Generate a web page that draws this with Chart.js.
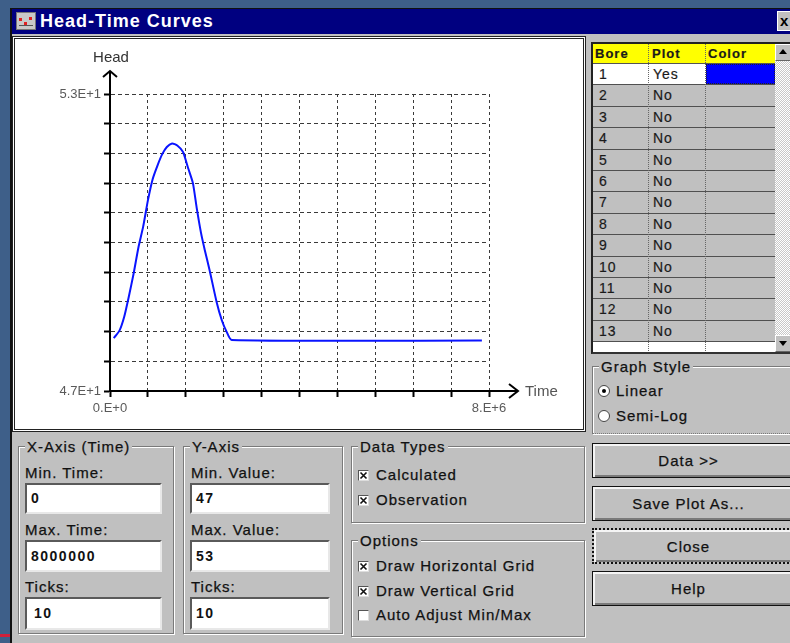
<!DOCTYPE html>
<html>
<head>
<meta charset="utf-8">
<title>Head-Time Curves</title>
<script src="https://cdn.jsdelivr.net/npm/chart.js@4/dist/chart.umd.min.js"></script>
<style>
  html, body { margin:0; padding:0; width:790px; height:643px; overflow:hidden; background:#3e5f89;
               font-family:"Liberation Sans", Arial, sans-serif; }
  .a { position:absolute; box-sizing:border-box; }
  .lbl { position:absolute; font-size:15px; letter-spacing:1px; color:#111; white-space:nowrap; line-height:18px; -webkit-text-stroke:0.25px #111; }
  .grp { position:absolute; box-sizing:border-box; border:1px solid #7a7a7a; box-shadow: inset 1px 1px 0 #fff, 1px 1px 0 #fff; }
  .grp > span { position:absolute; top:-9px; left:6px; background:#c0c0c0; padding:0 2px; font-size:15px; letter-spacing:1px; color:#111; line-height:18px; white-space:nowrap; -webkit-text-stroke:0.25px #111; }
  .inp { position:absolute; box-sizing:border-box; background:#fff; border-style:solid; border-width:2px;
         border-color:#5a5a5a #e8e8e8 #e8e8e8 #5a5a5a; font-weight:bold; font-size:14px; letter-spacing:1.5px;
         padding-left:4px; color:#111; }
  .btn { position:absolute; box-sizing:border-box; background:#c0c0c0; border:1px solid #111;
         box-shadow: inset 2px 2px 0 #f4f4f4, inset -2px -2px 0 #7a7a7a; text-align:center;
         font-size:15px; letter-spacing:1px; color:#111; -webkit-text-stroke:0.25px #111; }
  .chk { position:absolute; width:11px; height:11px; box-sizing:border-box; background:#fff;
         border-style:solid; border-width:1px; border-color:#555 #ddd #ddd #555; }
  .rad { position:absolute; width:12px; height:12px; box-sizing:border-box; background:#fff; border-radius:50%;
         border:1px solid #444; }
  .cell { position:absolute; font-size:14px; letter-spacing:1px; color:#1a1a1a; line-height:21px; white-space:nowrap; -webkit-text-stroke:0.2px #1a1a1a; }
</style>
</head>
<body>
<!-- dialog frame -->
<div class="a" style="left:10px;top:8px;width:790px;height:640px;background:#c0c0c0;border-left:2px solid #111;border-top:1px solid #111;"></div>
<div class="a" style="left:0;top:634px;width:10px;height:3px;background:#d0203a;"></div>

<!-- title bar -->
<div class="a" style="left:12px;top:9px;width:790px;height:25px;background:#000080;"></div>
<div class="a" style="left:16px;top:12px;width:20px;height:18px;background:#c8c8c8;border:1px solid #777;">
  <div class="a" style="left:2px;top:5px;width:3px;height:3px;background:#e02020;"></div>
  <div class="a" style="left:7px;top:9px;width:3px;height:3px;background:#e02020;"></div>
  <div class="a" style="left:12px;top:4px;width:3px;height:3px;background:#e02020;"></div>
  <div class="a" style="left:2px;top:12px;width:14px;height:1px;background:#555;"></div>
</div>
<div class="a" style="left:40px;top:9px;height:25px;line-height:25px;color:#fff;font-weight:bold;font-size:18px;letter-spacing:1px;white-space:nowrap;">Head-Time Curves</div>
<div class="a" style="left:777px;top:11px;width:16px;height:20px;background:#c0c0c0;border:1px solid #fff;border-right:none;font-weight:bold;font-size:15px;line-height:18px;padding-left:2px;color:#000;">x</div>

<!-- plot panel -->
<div class="a" style="left:12px;top:36px;width:574px;height:396px;border:3px double #222;background:#fff;">
  <canvas id="plot" width="568" height="390" style="display:block;"></canvas>
</div>

<!-- bore table -->
<div class="a" id="tbl" style="left:591px;top:42px;width:200px;height:312px;border-left:2px solid #222;border-top:2px solid #222;border-bottom:2px solid #333;background:#c0c0c0;"></div>

<!-- graph style -->
<div class="grp" style="left:592px;top:366px;width:210px;height:68px;border-bottom-style:dotted;"><span>Graph Style</span></div>
<div class="rad" style="left:598px;top:385px;"><div class="a" style="left:3px;top:3px;width:4px;height:4px;border-radius:50%;background:#000;"></div></div>
<div class="lbl" style="left:616px;top:382px;">Linear</div>
<div class="rad" style="left:598px;top:410px;"></div>
<div class="lbl" style="left:616px;top:407px;">Semi-Log</div>

<!-- x-axis settings -->
<div class="grp" style="left:18px;top:446px;width:156px;height:188px;"><span>X-Axis (Time)</span></div>
<div class="lbl" style="left:25px;top:464px;">Min. Time:</div>
<div class="inp" style="left:25px;top:483px;width:137px;height:31px;line-height:27px;">0</div>
<div class="lbl" style="left:25px;top:521px;">Max. Time:</div>
<div class="inp" style="left:25px;top:540px;width:137px;height:32px;line-height:28px;">8000000</div>
<div class="lbl" style="left:25px;top:578px;">Ticks:</div>
<div class="inp" style="left:25px;top:597px;width:137px;height:33px;line-height:29px;padding-left:7px;">10</div>

<!-- y-axis settings -->
<div class="grp" style="left:183px;top:446px;width:160px;height:188px;"><span>Y-Axis</span></div>
<div class="lbl" style="left:191px;top:464px;">Min. Value:</div>
<div class="inp" style="left:190px;top:483px;width:140px;height:31px;line-height:27px;">47</div>
<div class="lbl" style="left:191px;top:521px;">Max. Value:</div>
<div class="inp" style="left:190px;top:540px;width:140px;height:32px;line-height:28px;">53</div>
<div class="lbl" style="left:191px;top:578px;">Ticks:</div>
<div class="inp" style="left:190px;top:597px;width:140px;height:33px;line-height:29px;">10</div>

<!-- data types -->
<div class="grp" style="left:351px;top:446px;width:234px;height:77px;"><span>Data Types</span></div>
<div class="chk" style="left:358px;top:470px;"><svg width="9" height="9" style="position:absolute;left:0;top:0"><path d="M1.5 1.5L7.5 7.5M7.5 1.5L1.5 7.5" stroke="#111" stroke-width="1.6"/></svg></div>
<div class="lbl" style="left:376px;top:466px;">Calculated</div>
<div class="chk" style="left:358px;top:495px;"><svg width="9" height="9" style="position:absolute;left:0;top:0"><path d="M1.5 1.5L7.5 7.5M7.5 1.5L1.5 7.5" stroke="#111" stroke-width="1.6"/></svg></div>
<div class="lbl" style="left:376px;top:491px;">Observation</div>

<!-- options -->
<div class="grp" style="left:351px;top:540px;width:234px;height:97px;"><span>Options</span></div>
<div class="chk" style="left:358px;top:561px;"><svg width="9" height="9" style="position:absolute;left:0;top:0"><path d="M1.5 1.5L7.5 7.5M7.5 1.5L1.5 7.5" stroke="#111" stroke-width="1.6"/></svg></div>
<div class="lbl" style="left:376px;top:557px;">Draw Horizontal Grid</div>
<div class="chk" style="left:358px;top:586px;"><svg width="9" height="9" style="position:absolute;left:0;top:0"><path d="M1.5 1.5L7.5 7.5M7.5 1.5L1.5 7.5" stroke="#111" stroke-width="1.6"/></svg></div>
<div class="lbl" style="left:376px;top:582px;">Draw Vertical Grid</div>
<div class="chk" style="left:358px;top:610px;"></div>
<div class="lbl" style="left:376px;top:606px;">Auto Adjust Min/Max</div>

<!-- buttons -->
<div class="btn" style="left:592px;top:443px;width:205px;height:35px;line-height:33px;padding-right:12px;">Data &gt;&gt;</div>
<div class="btn" style="left:592px;top:486px;width:205px;height:35px;line-height:33px;padding-right:12px;">Save Plot As...</div>
<div class="btn" style="left:592px;top:528px;width:205px;height:36px;line-height:34px;padding-right:12px;border:2px dotted #111;">Close</div>
<div class="btn" style="left:592px;top:571px;width:205px;height:35px;line-height:33px;padding-right:12px;">Help</div>

<script>
// ---- head at bore 1 over time (time in seconds, head in metres) ----
const timeValues = [80000, 200000, 300000, 400000, 500000, 600000, 700000, 800000, 900000, 1000000,
                    1100000, 1200000, 1310000, 1420000, 1540000, 1650000, 1750000, 1830000, 1920000,
                    2000000, 2100000, 2250000, 2360000, 2460000, 2570000, 7850000];
const headValues = [48.07, 48.22, 48.50, 48.92, 49.38, 49.90, 50.32, 50.85, 51.28, 51.55,
                    51.78, 51.93, 52.00, 51.96, 51.83, 51.50, 51.20, 50.70, 50.20,
                    49.85, 49.45, 48.80, 48.43, 48.20, 48.03, 48.02];

// ---- axis ticks and labels ----
const xTickValues = [0, 800000, 1600000, 2400000, 3200000, 4000000, 4800000, 5600000, 6400000, 7200000, 8000000];
const yTickValues = [47, 47.6, 48.2, 48.8, 49.4, 50, 50.6, 51.2, 51.8, 52.4, 53];
const xTickLabels = ['0.E+0', '8.E+6'];
const yTickLabels = ['4.7E+1', '5.3E+1'];
const xAxisTitle = 'Time';
const yAxisTitle = 'Head';

// ---- bore table ----
const boreIds   = [1, 2, 3, 4, 5, 6, 7, 8, 9, 10, 11, 12, 13];
const plotFlags = ['Yes', 'No', 'No', 'No', 'No', 'No', 'No', 'No', 'No', 'No', 'No', 'No', 'No'];
const boreColors = ['#0000ff', null, null, null, null, null, null, null, null, null, null, null, null];

(function buildTable() {
  const body = document.body;
  const add = (html) => body.insertAdjacentHTML('beforeend', html);
  // header
  add('<div class="a" style="left:593px;top:44px;width:182px;height:20px;background:#ffff00;border-bottom:1px solid #555;"></div>');
  add('<div class="cell" style="left:595px;top:44px;line-height:19px;font-weight:bold;font-size:13px;">Bore</div>');
  add('<div class="cell" style="left:652px;top:44px;line-height:19px;font-weight:bold;font-size:13px;">Plot</div>');
  add('<div class="cell" style="left:708px;top:44px;line-height:19px;font-weight:bold;font-size:13px;">Color</div>');
  const rowH = 21.4, top0 = 64;
  boreIds.forEach((id, i) => {
    const y = top0 + i * rowH;
    const sel = plotFlags[i] === 'Yes';
    add(`<div class="a" style="left:593px;top:${y}px;width:182px;height:${rowH}px;border-bottom:1px solid #505050;background:#c0c0c0;"></div>`);
    if (sel) add(`<div class="a" style="left:593px;top:${y}px;width:113px;height:${rowH - 1}px;background:#fff;"></div>`);
    if (boreColors[i]) add(`<div class="a" style="left:706px;top:${y}px;width:69px;height:${rowH - 1}px;background:${boreColors[i]};border:1px dotted #222;"></div>`);
    add(`<div class="cell" style="left:599px;top:${y}px;">${id}</div>`);
    add(`<div class="cell" style="left:653px;top:${y}px;">${plotFlags[i]}</div>`);
  });
  const yEnd = top0 + boreIds.length * rowH;
  add(`<div class="a" style="left:593px;top:${yEnd}px;width:182px;height:${352 - yEnd}px;background:#fff;"></div>`);
  // column dividers
  add('<div class="a" style="left:648px;top:44px;width:1px;height:307px;border-left:1px dotted #666;"></div>');
  add('<div class="a" style="left:705px;top:44px;width:1px;height:307px;border-left:1px dotted #666;"></div>');
  // scrollbar
  add('<div class="a" style="left:775px;top:44px;width:16px;height:308px;background:repeating-conic-gradient(#fff 0 25%, #c8c8c8 0 50%) 0 0/2px 2px;"></div>');
  add('<div class="a" style="left:775px;top:44px;width:16px;height:17px;background:#c0c0c0;border:1px solid #fff;border-right-color:#666;border-bottom-color:#666;"></div>');
  add('<div class="a" style="left:779px;top:49px;width:0;height:0;border-left:4px solid transparent;border-right:4px solid transparent;border-bottom:5px solid #000;"></div>');
  add('<div class="a" style="left:775px;top:335px;width:16px;height:17px;background:#c0c0c0;border:1px solid #fff;border-right-color:#666;border-bottom-color:#666;"></div>');
  add('<div class="a" style="left:779px;top:341px;width:0;height:0;border-left:4px solid transparent;border-right:4px solid transparent;border-top:5px solid #000;"></div>');
})();

// axis lines beyond the plot area, arrow heads and axis titles
const axisArrows = {
  id: 'axisArrows',
  afterDraw(chart) {
    const { ctx, chartArea: a } = chart;
    ctx.save();
    ctx.strokeStyle = '#000';
    ctx.lineWidth = 2;
    ctx.lineJoin = 'miter';
    // vertical axis extension with arrow
    const yTip = a.top - 23;
    ctx.beginPath();
    ctx.moveTo(a.left, a.top);
    ctx.lineTo(a.left, yTip);
    ctx.moveTo(a.left - 7, yTip + 6);
    ctx.lineTo(a.left, yTip);
    ctx.lineTo(a.left + 7, yTip + 6);
    ctx.stroke();
    // horizontal axis extension with arrow
    const xTip = a.right + 29;
    ctx.beginPath();
    ctx.moveTo(a.right, a.bottom);
    ctx.lineTo(xTip, a.bottom);
    ctx.moveTo(xTip - 9, a.bottom - 7);
    ctx.lineTo(xTip, a.bottom);
    ctx.lineTo(xTip - 9, a.bottom + 7);
    ctx.stroke();
    // titles
    ctx.font = '15px "Liberation Sans", Arial, sans-serif';
    ctx.fillStyle = '#333';
    ctx.textAlign = 'center';
    ctx.textBaseline = 'middle';
    ctx.fillText(yAxisTitle, a.left + 1, yTip - 13);
    ctx.fillStyle = '#555';
    ctx.textAlign = 'left';
    ctx.fillText(xAxisTitle, xTip + 7, a.bottom + 1);
    ctx.restore();
  }
};

const endLabel = (labels) => (value, index, ticks) =>
  index === 0 ? labels[0] : (index === ticks.length - 1 ? labels[1] : '');

const gridStyle = {
  color: '#3a3a3a',
  lineWidth: 1,
  tickColor: '#000',
  tickWidth: 2,
  tickLength: 6
};

new Chart(document.getElementById('plot'), {
  type: 'line',
  data: {
    datasets: [{
      data: timeValues.map((t, i) => ({ x: t, y: headValues[i] })),
      borderColor: '#0a14ff',
      borderWidth: 2,
      pointRadius: 0,
      tension: 0.2,
      fill: false
    }]
  },
  options: {
    responsive: false,
    animation: false,
    devicePixelRatio: 1,
    layout: { padding: { top: 55, right: 94, left: 0, bottom: 0 } },
    plugins: { legend: { display: false }, tooltip: { enabled: false } },
    scales: {
      x: {
        type: 'linear',
        min: 0,
        max: 8000000,
        afterFit: (s) => { s.height = 38; },
        afterBuildTicks: (s) => { s.ticks = xTickValues.map((v) => ({ value: v })); },
        ticks: {
          autoSkip: false,
          maxRotation: 0,
          padding: 4,
          color: '#5a5a5a',
          font: { family: '"Liberation Sans", Arial, sans-serif', size: 13 },
          callback: endLabel(xTickLabels)
        },
        grid: gridStyle,
        border: { display: true, color: '#000', width: 2, dash: [3, 3] }
      },
      y: {
        type: 'linear',
        min: 47,
        max: 53,
        afterFit: (s) => { s.width = 95; },
        afterBuildTicks: (s) => { s.ticks = yTickValues.map((v) => ({ value: v })); },
        ticks: {
          autoSkip: false,
          padding: 3,
          color: '#5a5a5a',
          font: { family: '"Liberation Sans", Arial, sans-serif', size: 13 },
          callback: endLabel(yTickLabels)
        },
        grid: gridStyle,
        border: { display: true, color: '#000', width: 2, dash: [4, 3] }
      }
    }
  },
  plugins: [axisArrows]
});
</script>
</body>
</html>
